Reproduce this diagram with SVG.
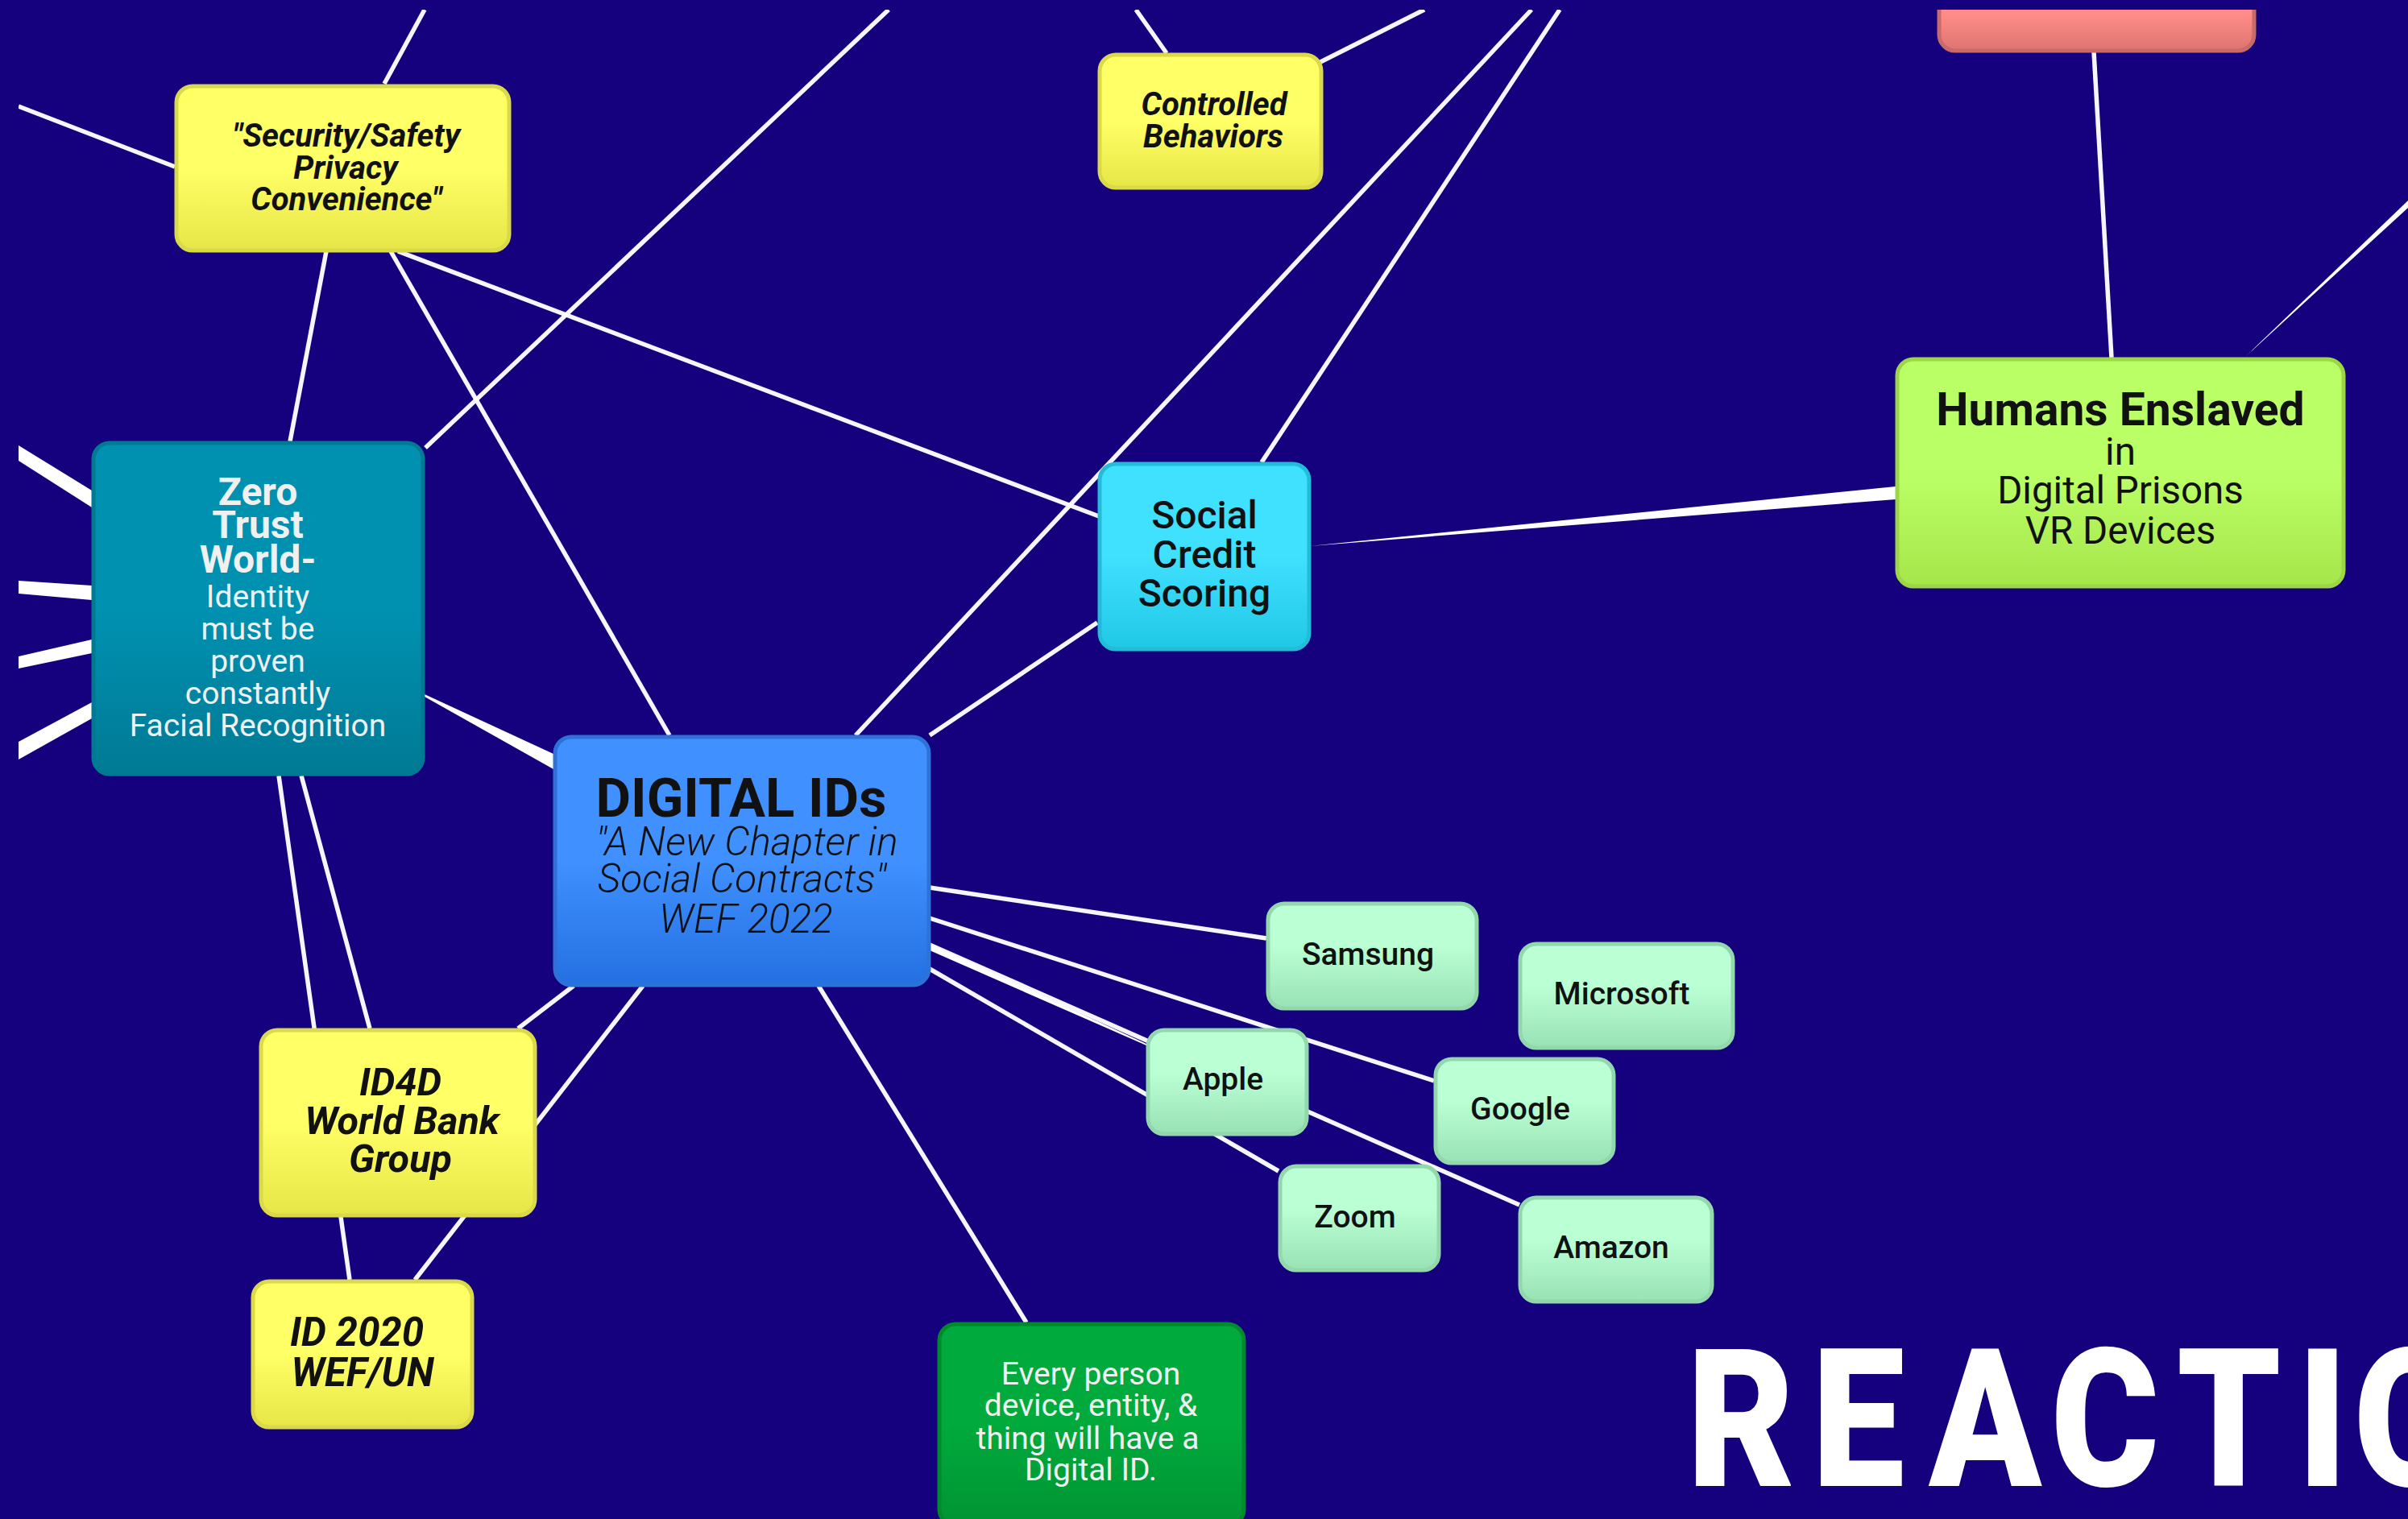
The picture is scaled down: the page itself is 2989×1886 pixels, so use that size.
<svg xmlns="http://www.w3.org/2000/svg" width="2989" height="1886" viewBox="0 0 2989 1886">
<defs>
<style>
text{font-family:Roboto,"Liberation Sans",sans-serif;text-anchor:middle;fill:#111}
.c line{stroke:#fff;stroke-width:5.5;stroke-opacity:.96}
.c polygon{fill:#fff}
.n rect{stroke-width:5}
.w text{fill:#f0f0f0}
.bi{font-weight:700;font-style:italic}
.m{font-weight:500}
.b{font-weight:700}
.li{font-weight:300;font-style:italic}
</style>
<linearGradient id="gy" x1="0" y1="0" x2="0" y2="1"><stop offset=".5" stop-color="#ffff66"/><stop offset="1" stop-color="#e6e647"/></linearGradient>
<linearGradient id="gt" x1="0" y1="0" x2="0" y2="1"><stop offset=".5" stop-color="#0091b1"/><stop offset="1" stop-color="#007a95"/></linearGradient>
<linearGradient id="gb" x1="0" y1="0" x2="0" y2="1"><stop offset=".5" stop-color="#4090ff"/><stop offset="1" stop-color="#2470e2"/></linearGradient>
<linearGradient id="gc" x1="0" y1="0" x2="0" y2="1"><stop offset=".5" stop-color="#40e0ff"/><stop offset="1" stop-color="#20c8e6"/></linearGradient>
<linearGradient id="gl" x1="0" y1="0" x2="0" y2="1"><stop offset=".5" stop-color="#bbff66"/><stop offset="1" stop-color="#a5e64a"/></linearGradient>
<linearGradient id="gm" x1="0" y1="0" x2="0" y2="1"><stop offset=".4" stop-color="#bbffd5"/><stop offset="1" stop-color="#98e2b4"/></linearGradient>
<linearGradient id="gg" x1="0" y1="0" x2="0" y2="1"><stop offset=".5" stop-color="#00aa3c"/><stop offset="1" stop-color="#009433"/></linearGradient>
<linearGradient id="gp" x1="0" y1="0" x2="0" y2="1"><stop offset=".45" stop-color="#ff8c88"/><stop offset="1" stop-color="#dc7470"/></linearGradient>
</defs>
<rect width="2989" height="1886" fill="#15007e"/>
<g id="connectors" class="c">
<line x1="477" y1="104" x2="527" y2="12"/>
<line x1="23" y1="132" x2="217" y2="207"/>
<line x1="528" y1="556" x2="1103" y2="12"/>
<line x1="405" y1="312" x2="360" y2="548"/>
<line x1="485" y1="312" x2="831" y2="913"/>
<line x1="494" y1="312" x2="1364" y2="641"/>
<polygon points="23,553 23,572 114,630 114,609"/>
<polygon points="23,721 23,737 114,745 114,727"/>
<polygon points="23,815 23,830 114,811 114,794"/>
<polygon points="23,921 23,943 114,892 114,872"/>
<polygon points="527,862 527,865 687,955 687,936"/>
<line x1="346" y1="963" x2="434" y2="1589"/>
<line x1="374" y1="963" x2="459" y2="1277"/>
<line x1="712" y1="1224" x2="643" y2="1277"/>
<line x1="798" y1="1224" x2="515" y2="1589"/>
<line x1="1062" y1="913" x2="1901" y2="12"/>
<line x1="1566" y1="574" x2="1936" y2="12"/>
<line x1="1362" y1="773" x2="1154" y2="913"/>
<polygon points="1626,678 2353,604 2353,620"/>
<line x1="1448" y1="66" x2="1410" y2="12"/>
<line x1="1639" y1="77" x2="1768" y2="12"/>
<line x1="2599" y1="64" x2="2621" y2="444"/>
<polygon points="2786,444 2989,249 2989,258"/>
<line x1="1154" y1="1102" x2="1572" y2="1165"/>
<line x1="1154" y1="1140" x2="1780" y2="1342"/>
<line x1="1154" y1="1173" x2="1886" y2="1496"/>
<polygon points="1154,1172 1423,1296 1423,1298 1154,1180"/>
<line x1="1154" y1="1203" x2="1587" y2="1454"/>
<line x1="1016" y1="1224" x2="1274" y2="1642"/>
</g>
<g id="n-security" class="n"><rect x="219" y="107" width="413" height="204" rx="20" fill="url(#gy)" stroke="#d9d94a"/>
<text class="bi" font-size="40"><tspan x="430" y="182">"Security/Safety</tspan><tspan x="429" y="222">Privacy</tspan><tspan x="430" y="261">Convenience"</tspan></text></g>
<g id="n-zero" class="n w"><rect x="116" y="550" width="409" height="411" rx="20" fill="url(#gt)" stroke="#007a92"/>
<text class="b" font-size="48"><tspan x="320" y="627">Zero</tspan><tspan x="320" y="668">Trust</tspan><tspan x="320" y="711">World-</tspan></text>
<text font-size="39"><tspan x="320" y="754">Identity</tspan><tspan x="320" y="794">must be</tspan><tspan x="320" y="834">proven</tspan><tspan x="320" y="874">constantly</tspan><tspan x="320" y="914">Facial Recognition</tspan></text></g>
<g id="n-digital" class="n"><rect x="689" y="915" width="464" height="308" rx="20" fill="url(#gb)" stroke="#2e72d8"/>
<text class="b" font-size="67" x="920" y="1014">DIGITAL IDs</text>
<text class="li" font-size="49.5"><tspan x="927" y="1062">"A New Chapter in</tspan><tspan x="921" y="1108">Social Contracts"</tspan><tspan x="926" y="1158">WEF 2022</tspan></text></g>
<g id="n-controlled" class="n"><rect x="1365" y="68" width="275" height="165" rx="20" fill="url(#gy)" stroke="#d9d94a"/>
<text class="bi" font-size="40"><tspan x="1507" y="143">Controlled</tspan><tspan x="1506" y="183">Behaviors</tspan></text></g>
<g id="n-social" class="n"><rect x="1365" y="576" width="260" height="230" rx="20" fill="url(#gc)" stroke="#22bcd8"/>
<text class="m" font-size="48" font-weight="700"><tspan x="1495" y="656">Social</tspan><tspan x="1495" y="705">Credit</tspan><tspan x="1495" y="753">Scoring</tspan></text></g>
<g id="n-pink" class="n"><rect x="2407" y="-20" width="391" height="83" rx="20" fill="url(#gp)" stroke="#c86a68"/></g>
<g id="n-humans" class="n"><rect x="2355" y="446" width="554" height="282" rx="20" fill="url(#gl)" stroke="#9cd648"/>
<text class="b" font-size="57" x="2632" y="528">Humans Enslaved</text>
<text font-size="47.5"><tspan x="2632" y="577">in</tspan><tspan x="2632" y="625">Digital Prisons</tspan><tspan x="2632" y="675">VR Devices</tspan></text></g>
<g id="n-id4d" class="n"><rect x="324" y="1279" width="340" height="230" rx="20" fill="url(#gy)" stroke="#d9d94a"/>
<text class="bi" font-size="48.5"><tspan x="497" y="1360">ID4D</tspan><tspan x="499" y="1408">World Bank</tspan><tspan x="497" y="1455">Group</tspan></text></g>
<g id="n-id2020" class="n"><rect x="314" y="1591" width="272" height="181" rx="20" fill="url(#gy)" stroke="#d9d94a"/>
<text class="bi" font-size="49"><tspan x="443" y="1671">ID 2020</tspan><tspan x="450" y="1721">WEF/UN</tspan></text></g>
<g id="n-samsung" class="n"><rect x="1574" y="1122" width="259" height="130" rx="20" fill="url(#gm)" stroke="#93d8ac"/><text class="m" font-size="39" x="1698" y="1198">Samsung</text></g>
<g id="n-apple" class="n"><rect x="1425" y="1279" width="197" height="129" rx="20" fill="url(#gm)" stroke="#93d8ac"/><text class="m" font-size="39" x="1518" y="1353">Apple</text></g>
<g id="n-google" class="n"><rect x="1782" y="1315" width="221" height="129" rx="20" fill="url(#gm)" stroke="#93d8ac"/><text class="m" font-size="39" x="1887" y="1390">Google</text></g>
<g id="n-zoom" class="n"><rect x="1589" y="1448" width="197" height="129" rx="20" fill="url(#gm)" stroke="#93d8ac"/><text class="m" font-size="39" x="1682" y="1524">Zoom</text></g>
<g id="n-microsoft" class="n"><rect x="1887" y="1172" width="264" height="129" rx="20" fill="url(#gm)" stroke="#93d8ac"/><text class="m" font-size="39" x="2013" y="1247">Microsoft</text></g>
<g id="n-amazon" class="n"><rect x="1887" y="1487" width="238" height="129" rx="20" fill="url(#gm)" stroke="#93d8ac"/><text class="m" font-size="39" x="2000" y="1562">Amazon</text></g>
<g id="n-every" class="n w"><rect x="1166" y="1644" width="378" height="250" rx="20" fill="url(#gg)" stroke="#008a2e"/>
<text font-size="39"><tspan x="1354" y="1719">Every person</tspan><tspan x="1354" y="1758">device, entity, &amp;</tspan><tspan x="1350" y="1799">thing will have a</tspan><tspan x="1354" y="1838">Digital ID.</tspan></text></g>
<rect id="edge-top" width="2989" height="12" fill="#15007e"/>
<rect id="edge-left" width="23" height="1886" fill="#15007e"/>
<text id="reaction" transform="scale(.86 1)" style="fill:#fff;text-anchor:start;font-weight:900" font-size="239" x="2435 2615 2784 2960 3142 3316 3397" y="1845">REACTIO</text>
</svg>
